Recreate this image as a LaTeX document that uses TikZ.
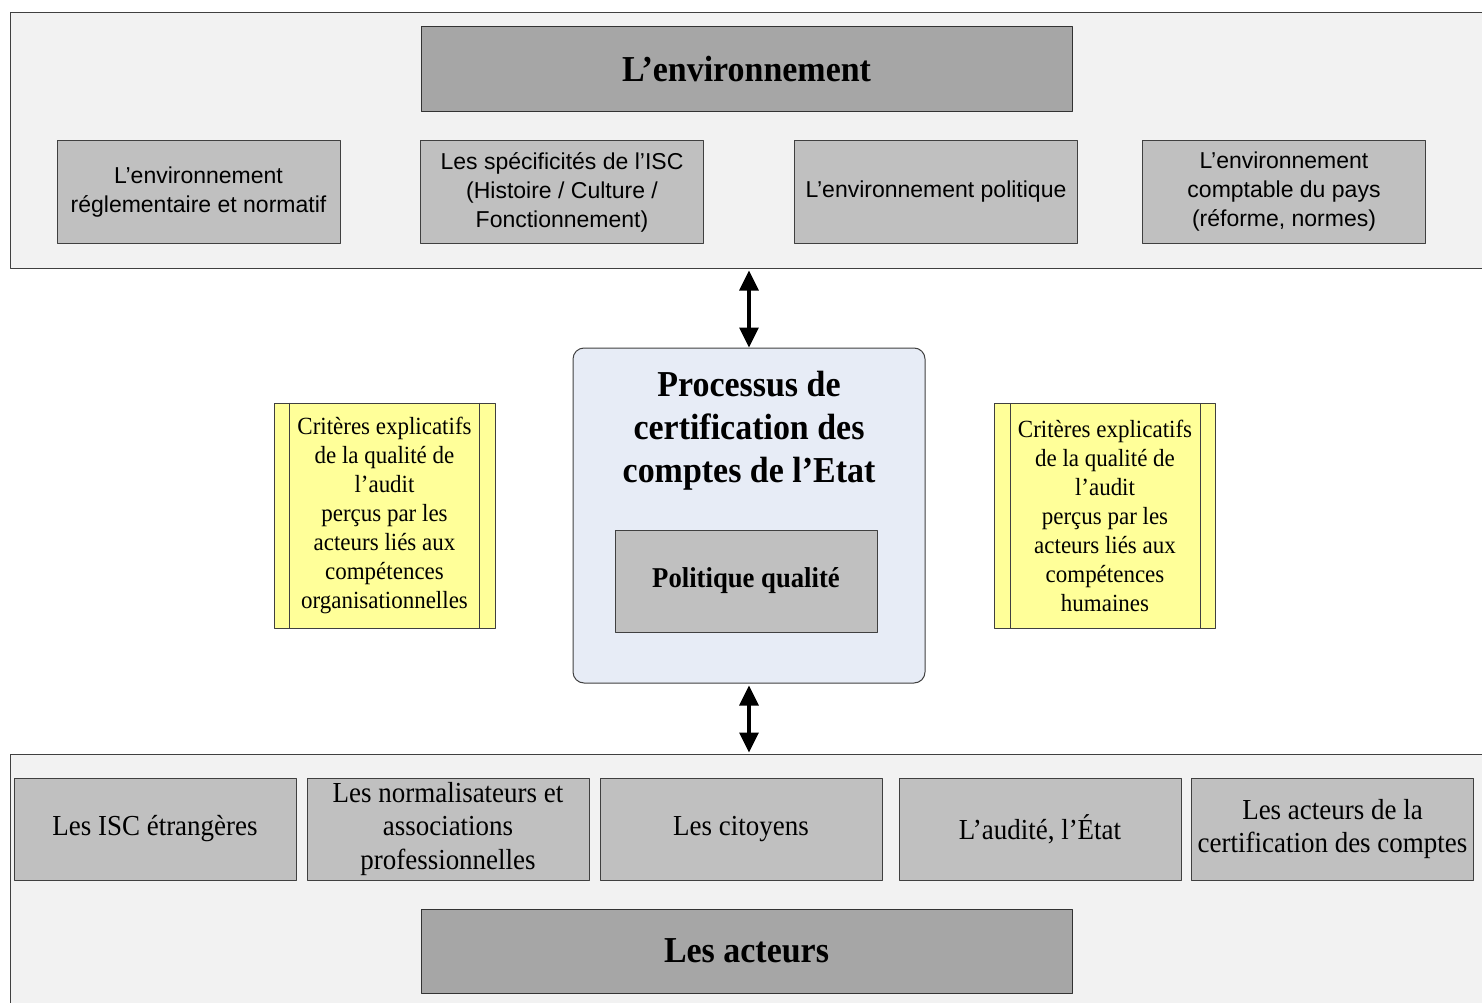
\documentclass[tikz,border=0pt]{standalone}
\usepackage{fontspec}
\setmainfont{Liberation Serif}[FakeStretch=0.93]
\newfontfamily\sansf{Liberation Sans}
\usetikzlibrary{arrows.meta}
\definecolor{panelgray}{HTML}{F2F2F2}
\definecolor{headgray}{HTML}{A6A6A6}
\definecolor{boxgray}{HTML}{C0C0C0}
\definecolor{procblue}{HTML}{E7ECF6}
\definecolor{crityellow}{HTML}{FFFF99}
\definecolor{edgegray}{HTML}{404040}
\tikzset{
	panel/.style={draw=edgegray, fill=panelgray, line width=1pt, inner sep=0pt},
	headbox/.style={draw=black!80, fill=headgray, line width=1pt, minimum width=651pt, align=center,
		font=\fontsize{36.5}{43}\selectfont\bfseries},
	envbox/.style={draw=edgegray, fill=boxgray, line width=1pt, minimum width=283pt, minimum height=102pt,
		align=center, inner sep=2pt, font=\sansf\fontsize{23}{29}\selectfont},
	actbox/.style={draw=edgegray, fill=boxgray, line width=1pt, minimum width=282pt, minimum height=102pt,
		align=center, inner sep=2pt, font=\fontsize{29}{33.5}\selectfont},
	critbox/.style={draw=edgegray, fill=crityellow, line width=1pt, minimum width=221pt, minimum height=225pt,
		align=center, inner sep=0pt, font=\fontsize{24.7}{29}\selectfont},
	biarrow/.style={{Triangle[length=20pt,width=19pt]}-{Triangle[length=20pt,width=19pt]}, line width=3.4pt},
}
\begin{document}
\begin{tikzpicture}[x=1pt,y=-1pt, line join=round]
	\useasboundingbox (0,0) rectangle (1482,1003);
	% l'environnement
	\node[panel, minimum width=1490pt, minimum height=255pt] (envpanel) at (755,140.5) {};
	\node[headbox, minimum height=85pt] (envhead) at (746.5,69.5) {L’environnement};
	\node[envbox] (envreg) at (198.5,192) {L’environnement\\réglementaire et normatif};
	\node[envbox] (envisc) at (562,192) {Les spécificités de l’ISC\\(Histoire / Culture /\\Fonctionnement)};
	\node[envbox] (envpol) at (936,192) {L’environnement politique};
	\node[envbox] (envcpt) at (1284,192) {L’environnement\\comptable du pays\\(réforme, normes)};
	% les acteurs
	\node[panel, minimum width=1490pt, minimum height=266pt] (actpanel) at (755,887) {};
	\node[actbox] (actisc) at (155,829) {Les ISC étrangères};
	\node[actbox] (actnorm) at (448,829) {Les normalisateurs et\\associations\\professionnelles};
	\node[actbox] (actcit) at (741,829) {Les citoyens};
	\node[actbox] (actetat) at (1040,829) {L’audité, l’État};
	\node[actbox] (actcert) at (1332.5,829) {Les acteurs de la\\certification des comptes};
	\node[headbox, minimum height=84pt] (acthead) at (746.5,951) {Les acteurs};
	% processus
	\node[draw=edgegray, fill=procblue, line width=1pt, rounded corners=11pt,
		minimum width=352pt, minimum height=335pt] (proc) at (749,515.5) {};
	\node[align=center, font=\fontsize{36.5}{43}\selectfont\bfseries] (proctitle) at (749,431)
		{Processus de\\certification des\\comptes de l’Etat};
	\node[draw=edgegray, fill=boxgray, line width=1pt, minimum width=262pt, minimum height=102pt,
		font=\fontsize{28.7}{34}\selectfont\bfseries] (polqual) at (746,581) {Politique qualité};
	% criteres
	\node[critbox] (critorg) at (384.5,515.5) {Critères explicatifs\\de la qualité de\\l’audit\\perçus par les\\acteurs liés aux\\compétences\\organisationnelles};
	\node[critbox] (crithum) at (1105,516) {Critères explicatifs\\de la qualité de\\l’audit\\perçus par les\\acteurs liés aux\\compétences\\humaines};
	\foreach \c in {critorg,crithum}{
		\draw[edgegray, line width=1pt] ([xshift=16]\c.north west) -- ([xshift=16]\c.south west)
			([xshift=-16]\c.north east) -- ([xshift=-16]\c.south east);
	}
	% fleches
	\draw[biarrow, shorten >=2pt] (proc.north) -- (proc.north |- envpanel.south);
	\draw[biarrow, shorten >=1pt, shorten <=2pt] (proc.south) -- (proc.south |- actpanel.north);
\end{tikzpicture}
\end{document}
